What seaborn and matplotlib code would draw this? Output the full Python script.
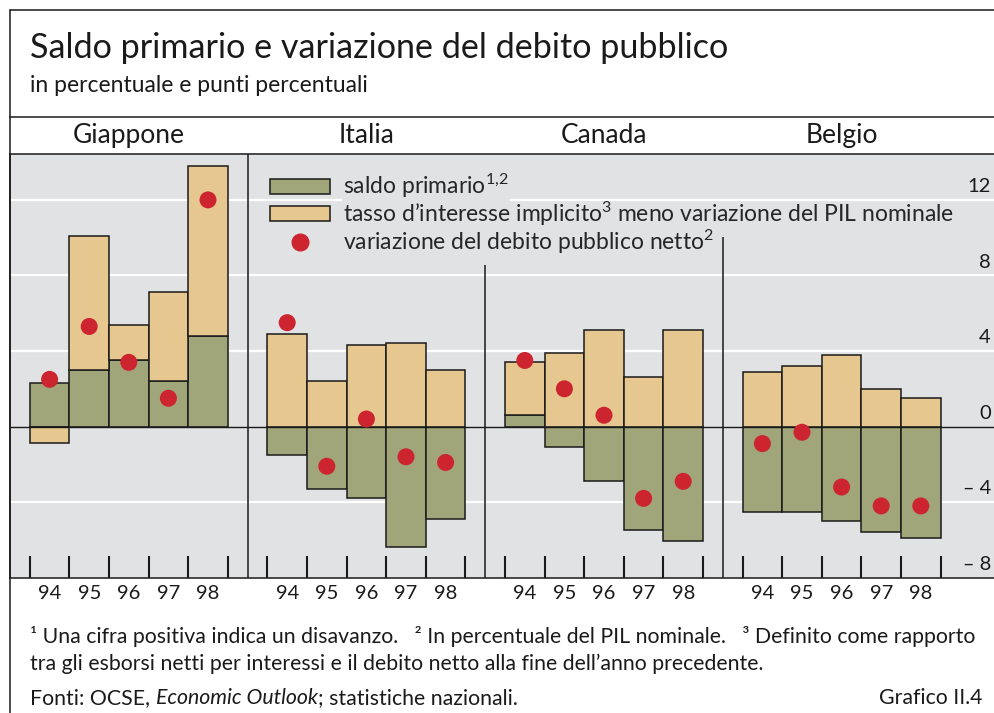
import numpy as np
import pandas as pd
import matplotlib
matplotlib.use('Agg')
import matplotlib.pyplot as plt
import seaborn as sns
from matplotlib.patches import Patch
from matplotlib.lines import Line2D

countries = ['Giappone', 'Italia', 'Canada', 'Belgio']
years = ['94', '95', '96', '97', '98']

# saldo primario (barre verdi)
saldo_giappone = [2.3, 3.0, 3.5, 2.4, 4.8]
saldo_italia = [-1.5, -3.3, -3.8, -6.4, -4.9]
saldo_canada = [0.6, -1.1, -2.9, -5.5, -6.05]
saldo_belgio = [-4.5, -4.5, -5.0, -5.6, -5.9]

# tasso d'interesse implicito meno variazione PIL (barre arancio)
tasso_giappone = [-0.85, 7.1, 1.9, 4.7, 9.0]
tasso_italia = [4.9, 2.4, 4.3, 4.4, 3.0]
tasso_canada = [2.8, 3.9, 5.1, 2.6, 5.1]
tasso_belgio = [2.9, 3.2, 3.8, 2.0, 1.5]

# variazione del debito pubblico netto (punti rossi)
debito_giappone = [2.5, 5.3, 3.4, 1.5, 12.0]
debito_italia = [5.5, -2.1, 0.4, -1.6, -1.9]
debito_canada = [3.5, 2.0, 0.6, -3.8, -2.9]
debito_belgio = [-0.9, -0.3, -3.2, -4.2, -4.2]

yticks = [12, 8, 4, 0, -4, -8]
ytick_labels = ['12', '8', '4', '0', '– 4', '– 8']

saldo = [saldo_giappone, saldo_italia, saldo_canada, saldo_belgio]
tasso = [tasso_giappone, tasso_italia, tasso_canada, tasso_belgio]
debito = [debito_giappone, debito_italia, debito_canada, debito_belgio]

rows = []
for i, c in enumerate(countries):
    for j, y in enumerate(years):
        rows.append({'paese': c, 'anno': y, 'pos': 6 * i + j + 1,
                     'saldo': saldo[i][j], 'tasso': tasso[i][j], 'debito': debito[i][j]})
df = pd.DataFrame(rows)

green = '#a0a57a'
orange = '#e6c78f'
red = '#cc2530'
bg = '#e1e2e4'
ink = '#1a1a1a'

sns.set_theme(style='white')
plt.rcParams['font.family'] = ['Lato', 'DejaVu Sans']
plt.rcParams['mathtext.fontset'] = 'custom'
plt.rcParams['mathtext.rm'] = 'Lato'
plt.rcParams['mathtext.default'] = 'regular'

W, H = 994, 713
fig = plt.figure(figsize=(W / 100, H / 100), dpi=100)
fig.patch.set_facecolor('white')


def fx(x):
    return x / W


def fy(y):
    return 1 - y / H


top, bottom = 154, 577.7
ax = fig.add_axes([fx(10), fy(bottom), 984 / W, (bottom - top) / H])
ax.set_facecolor(bg)
ax.set_xlim(0, 984 / 39.6)
ax.set_ylim(-8, 14.43)

for v in [12, 8, 4, -4]:
    ax.axhline(v, color='white', lw=1.6, zorder=1)

ax.bar(df['pos'], df['saldo'], width=1, color=green, edgecolor=ink, lw=1.1, zorder=3)
base = np.where(df['tasso'] > 0, df['saldo'].clip(lower=0), df['saldo'].clip(upper=0))
ax.bar(df['pos'], df['tasso'], bottom=base, width=1, color=orange, edgecolor=ink, lw=1.1, zorder=3)
ax.axhline(0, color=ink, lw=1.0, zorder=3.5)
sns.scatterplot(data=df, x='pos', y='debito', color=red, s=150, edgecolor='none',
                zorder=4, ax=ax, legend=False)

# separatori tra i paesi e tacche sui bordi delle barre
ax.vlines([6], -8, 14.43, color=ink, lw=1.1, zorder=2)
ax.vlines([12], -8, 8.55, color=ink, lw=1.1, zorder=2)
ax.vlines([18], -8, 10.05, color=ink, lw=1.1, zorder=2)
edges = [6 * i + 0.5 + k for i in range(4) for k in range(6)]
ax.vlines(edges, -8, -6.85, color=ink, lw=1.5, zorder=2)

ax.set_xticks(df['pos'])
ax.set_xticklabels(df['anno'])
ax.tick_params(axis='x', length=0, pad=5, labelsize=14.5, colors=ink)
ax.set_yticks([])
ax.set_xlabel('')
ax.set_ylabel('')
for s in ['top', 'bottom', 'left']:
    ax.spines[s].set_color(ink)
    ax.spines[s].set_linewidth(1.1)
ax.spines['right'].set_visible(False)

for v, lab in zip(yticks, ytick_labels):
    ax.text(24.77, v + 0.42, lab, ha='right', va='baseline', fontsize=14.5, color=ink)

for i, c in enumerate(countries):
    ax.text(6 * i + 3, 1.026, c, ha='center', va='baseline', fontsize=19,
            color=ink, transform=ax.get_xaxis_transform())

handles = [Patch(facecolor=green, edgecolor=ink, lw=1.1),
           Patch(facecolor=orange, edgecolor=ink, lw=1.1),
           Line2D([], [], marker='o', ls='none', color=red, markersize=12)]
labels = ['saldo primario$^{1{,}2}$',
          'tasso d’interesse implicito$^{3}$ meno variazione del PIL nominale',
          'variazione del debito pubblico netto$^{2}$']
leg = ax.legend(handles, labels, loc='upper left', bbox_to_anchor=(fx(270), fy(172)),
                bbox_transform=fig.transFigure, frameon=False, fontsize=16.5,
                handlelength=2.6, handleheight=0.62, handletextpad=0.6,
                labelspacing=-0.03, borderpad=0, borderaxespad=0)
leg.get_texts()[0].set_bbox(dict(facecolor=bg, edgecolor='none', pad=1))

# cornice
for xs, ys in [([10, W], [10, 10]), ([10, 10], [10, H]), ([10, W], [117, 117])]:
    fig.add_artist(Line2D([fx(x) for x in xs], [fy(y) for y in ys],
                          transform=fig.transFigure, color=ink, lw=1.1))

fig.text(fx(30), fy(58), 'Saldo primario e variazione del debito pubblico',
         fontsize=24.6, va='baseline', color=ink)
fig.text(fx(30), fy(92), 'in percentuale e punti percentuali',
         fontsize=16.5, va='baseline', color=ink)

fs = 15.3
fig.text(fx(30), fy(643),
         '¹ Una cifra positiva indica un disavanzo.   ² In percentuale del PIL nominale.   '
         '³ Definito come rapporto', fontsize=fs, va='baseline', color=ink)
fig.text(fx(30), fy(670),
         'tra gli esborsi netti per interessi e il debito netto alla fine dell’anno precedente.',
         fontsize=fs, va='baseline', color=ink)
t1 = fig.text(fx(30), fy(704), 'Fonti: OCSE, ', fontsize=fs, va='baseline', color=ink)
t2 = ax.annotate('Economic Outlook', xy=(1, 0), xycoords=t1, va='bottom', ha='left',
                 fontsize=fs, style='italic', color=ink, annotation_clip=False)
ax.annotate('; statistiche nazionali.', xy=(1, 0), xycoords=t2, va='bottom', ha='left',
            fontsize=fs, color=ink, annotation_clip=False)
fig.text(fx(982), fy(704), 'Grafico II.4', fontsize=fs, va='baseline', ha='right', color=ink)

fig.savefig('out.png', dpi=100)
